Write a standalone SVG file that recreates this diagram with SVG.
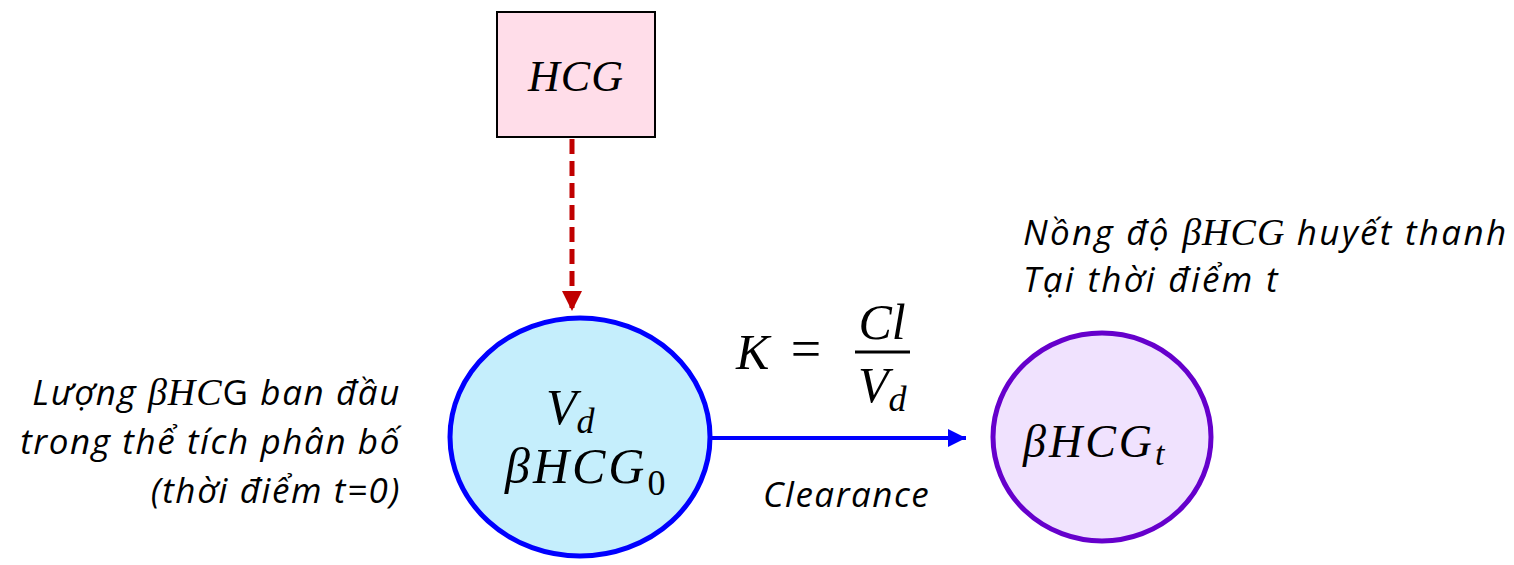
<svg xmlns="http://www.w3.org/2000/svg" width="1514" height="565" viewBox="0 0 1514 565">
<style>
.m{font-family:"Liberation Serif","DejaVu Serif",serif;font-style:italic;fill:#000}
.t{font-family:"Open Sans","Noto Sans",sans-serif;font-style:italic;fill:#000;font-size:35px}
</style>
<defs>
<marker id="ar" viewBox="0 0 10 10" refX="10" refY="5" markerWidth="4.5" markerHeight="4" orient="auto" markerUnits="strokeWidth"><path d="M0,0L10,5L0,10z" fill="#c00000"/></marker>
<marker id="ab" viewBox="0 0 10 10" refX="10" refY="5" markerWidth="5" markerHeight="4.5" orient="auto" markerUnits="strokeWidth"><path d="M0,0L10,5L0,10z" fill="#0000ff"/></marker>
</defs>
<rect width="1514" height="565" fill="#fff"/>
<g id="connectors">
<line x1="572" y1="139" x2="572" y2="311" stroke="#c00000" stroke-width="5" stroke-dasharray="15,7" marker-end="url(#ar)"/>
<line x1="711" y1="438" x2="966" y2="438" stroke="#0000ff" stroke-width="4" marker-end="url(#ab)"/>
</g>
<g id="hcg">
<rect x="497" y="12" width="158" height="125" fill="#ffdde9" stroke="#000" stroke-width="2"/>
<text class="m" x="576" y="91" font-size="44" text-anchor="middle" letter-spacing="1">HCG</text>
</g>
<g id="vd">
<ellipse cx="580" cy="437" rx="130" ry="119" fill="#c5eefc" stroke="#0000ff" stroke-width="5"/>
<text class="m" x="546" y="424" font-size="50">V<tspan font-size="36" dy="9">d</tspan></text>
<text class="m" x="505" y="483" font-size="50" letter-spacing="3">βHCG<tspan font-size="36" dy="12" font-style="normal">0</tspan></text>
</g>
<g id="hcgt">
<ellipse cx="1102" cy="437" rx="109" ry="104" fill="#f0e2fe" stroke="#6600cc" stroke-width="5"/>
<text class="m" x="1023" y="457" font-size="46" letter-spacing="3">βHCG<tspan font-size="34" dy="8" letter-spacing="0">t</tspan></text>
</g>
<g id="labels">
<text class="m" x="736" y="369" font-size="50">K</text>
<text x="806" y="367" font-size="54" font-family="Liberation Serif,serif" text-anchor="middle">=</text>
<text class="m" x="882" y="339" font-size="50" text-anchor="middle">Cl</text>
<line x1="855" y1="352" x2="910" y2="352" stroke="#000" stroke-width="3"/>
<text class="m" x="858" y="402" font-size="50">V<tspan font-size="36" dy="9">d</tspan></text>
<text class="t" x="763" y="507" letter-spacing="1.5">Clearance</text>
<text class="t" x="1023" y="245" letter-spacing="2.3">Nồng độ <tspan class="m" font-size="38" letter-spacing="1">βHCG</tspan> huyết thanh</text>
<text class="t" x="1023" y="292" letter-spacing="2.3">Tại thời điểm t</text>
<text class="t" x="401" y="405" text-anchor="end" letter-spacing="1.6">Lượng <tspan class="m" font-size="38" letter-spacing="1">βHC</tspan><tspan font-style="normal">G</tspan> ban đầu</text>
<text class="t" x="401" y="454" text-anchor="end" letter-spacing="1.6">trong thể tích phân bố</text>
<text class="t" x="401" y="503" text-anchor="end" letter-spacing="1.6">(thời điểm t=0)</text>
</g>
</svg>
